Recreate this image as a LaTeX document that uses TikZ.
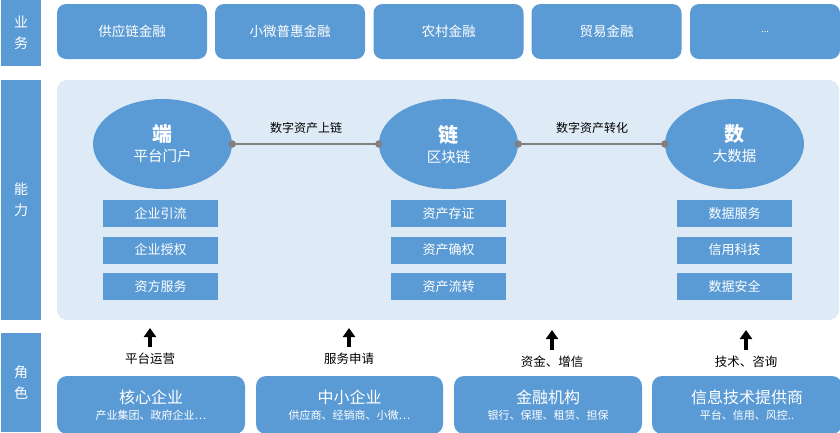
\documentclass[tikz,border=0pt]{standalone}
\usepackage{fontspec}
\setmainfont{Noto Sans CJK SC}
\usetikzlibrary{shapes.geometric}
\usetikzlibrary{arrows.meta}
\usetikzlibrary{positioning}
\definecolor{boxblue}{HTML}{5B9BD5}
\definecolor{panelblue}{HTML}{DEEAF6}
\definecolor{linkgray}{HTML}{808080}

\begin{document}
\begin{tikzpicture}[x=1pt, y=-1pt,
    side/.style = {fill=boxblue, text=white, minimum width=40pt, inner sep=0pt,
                   align=center, font=\fontsize{14}{21}\selectfont},
    biz/.style = {fill=boxblue, text=white, rounded corners=9pt, minimum width=150pt,
                  minimum height=55pt, inner sep=0pt, font=\fontsize{13.5}{16}\selectfont},
    core/.style = {ellipse, fill=boxblue, text=white, minimum width=139pt,
                   minimum height=90pt, inner sep=0pt, align=center,
                   font=\fontsize{14.5}{20}\selectfont},
    skill/.style = {fill=boxblue, text=white, minimum width=115pt, minimum height=27pt,
                    inner sep=0pt, font=\fontsize{13}{15}\selectfont},
    role/.style = {fill=boxblue, text=white, rounded corners=10pt, minimum height=58pt,
                   inner sep=0pt, align=center, font=\fontsize{16}{15.5}\selectfont},
    lbl/.style = {font=\fontsize{12.5}{14}\selectfont, inner sep=0pt},
    link/.style = {linkgray, line width=1.2pt},
    dot/.style = {circle, fill=linkgray, minimum size=7.5pt, inner sep=0pt},
    uparrow/.style = {line width=4pt, -{Triangle[width=12pt, length=9pt]}}]

    \useasboundingbox (0,0) rectangle (840,432);

    % left column
    \node[side, minimum height=65.5pt] (ywu) at (21,32.75) {业\\务};
    \node[side, minimum height=240pt] (nli) at (21,200) {能\\力};
    \node[side, minimum height=99pt] (jse) at (21,382.5) {角\\色};

    % business row
    \node[biz] (b1) at (132,31.5) {供应链金融};
    \node[biz] (b2) at (290,31.5) {小微普惠金融};
    \node[biz] (b3) at (448.5,31.5) {农村金融};
    \node[biz] (b4) at (606.5,31.5) {贸易金融};
    \node[biz] (b5) at (765,31.5) {\fontsize{9}{10}\selectfont ...};

    % capability panel
    \fill[panelblue, rounded corners=10pt] (57,80) rectangle (839,320);

    \node[core] (duan) at (162.5,144) {{\fontsize{20}{20}\selectfont\bfseries 端}\\平台门户};
    \node[core] (lian) at (448.5,144) {{\fontsize{20}{20}\selectfont\bfseries 链}\\区块链};
    \node[core] (shu) at (734.5,144) {{\fontsize{20}{20}\selectfont\bfseries 数}\\大数据};

    \draw[link] (duan.east) -- (lian.west);
    \draw[link] (lian.east) -- (shu.west);
    \node[dot] (d1) at (duan.east) {};
    \node[dot] (d2) at (lian.west) {};
    \node[dot] (d3) at (lian.east) {};
    \node[dot] (d4) at (shu.west) {};
    \node[lbl, font=\fontsize{12}{14}\selectfont] (up) at (306,128) {数字资产上链};
    \node[lbl, font=\fontsize{12}{14}\selectfont] (zh) at (592,128) {数字资产转化};

    \node[skill] (k11) at (160.5,213.5) {企业引流};
    \node[skill] (k12) at (160.5,250) {企业授权};
    \node[skill] (k13) at (160.5,286.5) {资方服务};
    \node[skill] (k21) at (448.5,213.5) {资产存证};
    \node[skill] (k22) at (448.5,250) {资产确权};
    \node[skill] (k23) at (448.5,286.5) {资产流转};
    \node[skill] (k31) at (734.5,213.5) {数据服务};
    \node[skill] (k32) at (734.5,250) {信用科技};
    \node[skill] (k33) at (734.5,286.5) {数据安全};

    % roles
    \node[role, minimum width=188pt] (r1) at (151,405)
        {核心企业\\{\fontsize{11}{13}\selectfont 产业集团、政府企业…}};
    \node[role, minimum width=187pt] (r2) at (349.5,405)
        {中小企业\\{\fontsize{11}{13}\selectfont 供应商、经销商、小微…}};
    \node[role, minimum width=188pt] (r3) at (548,405)
        {金融机构\\{\fontsize{11}{13}\selectfont 银行、保理、租赁、担保}};
    \node[role, minimum width=190pt] (r4) at (747,405)
        {信息技术提供商\\{\fontsize{11}{13}\selectfont 平台、信用、风控..}};

    \node[lbl] (l1) at (150,359) {平台运营};
    \node[lbl] (l2) at (349,359) {服务申请};
    \node[lbl] (l3) at (552,362) {资金、增信};
    \node[lbl] (l4) at (746,362) {技术、咨询};

    \coordinate (a1) at (150,328);
    \coordinate (a2) at (349,328);
    \coordinate (a3) at (552,330);
    \coordinate (a4) at (746,330);
    \draw[uparrow] ([yshift=6pt]l1.north) -- (a1);
    \draw[uparrow] ([yshift=6pt]l2.north) -- (a2);
    \draw[uparrow] ([yshift=6pt]l3.north) -- (a3);
    \draw[uparrow] ([yshift=6pt]l4.north) -- (a4);
\end{tikzpicture}
\end{document}
